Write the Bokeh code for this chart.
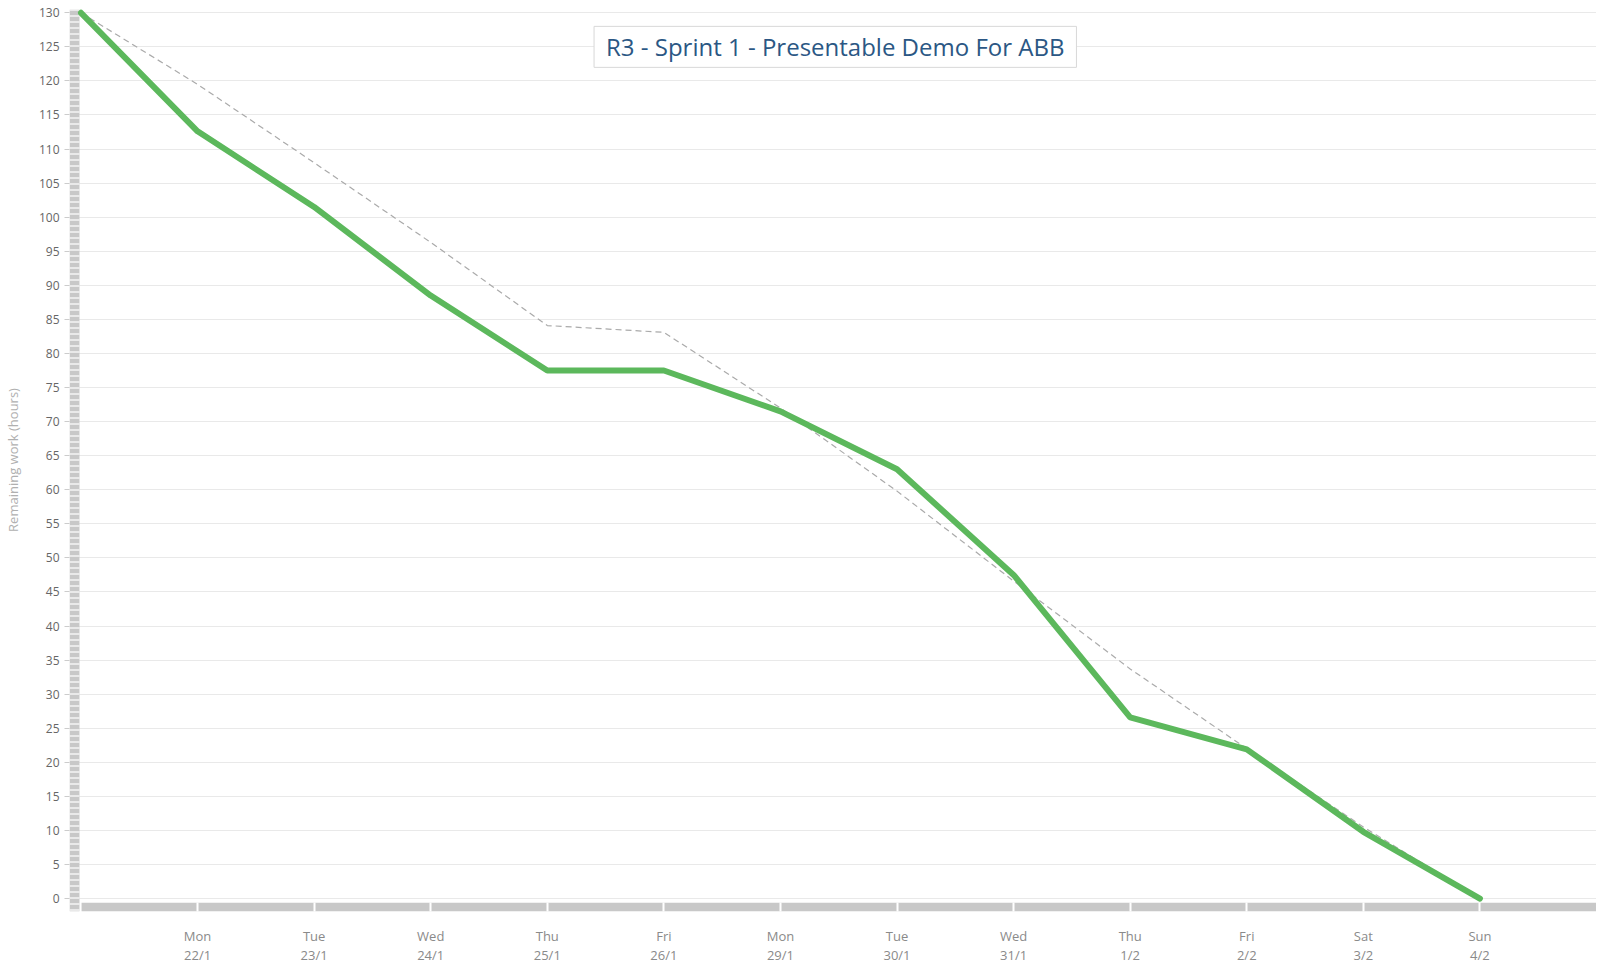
from bokeh.plotting import figure
from bokeh.models import Label, FixedTicker, Range1d, ColumnDataSource
from bokeh.embed import file_html
from bokeh.resources import INLINE

# ---- data ----
day_index = [0, 1, 2, 3, 4, 5, 6, 7, 8, 9, 10, 11, 12]
weekdays = ["Mon", "Tue", "Wed", "Thu", "Fri", "Mon", "Tue", "Wed", "Thu", "Fri", "Sat", "Sun"]
dates = ["22/1", "23/1", "24/1", "25/1", "26/1", "29/1", "30/1", "31/1", "1/2", "2/2", "3/2", "4/2"]
remaining = [130, 112.6, 101.5, 88.5, 77.5, 77.5, 71.5, 63.0, 47.5, 26.6, 21.9, 9.8, 0]
ideal = [130, 119.5, 108, 96.3, 84.1, 83.1, 72, 59.8, 46.6, 33.7, 22, 10.5, 0]
y_ticks = list(range(0, 131, 5))
title_text = "R3 - Sprint 1 - Presentable Demo For ABB"

FONT = "Open Sans"
X0, X1 = -0.0985, 13.0
Y0, Y1 = -1.9, 130.63

p = figure(width=1596, height=967, x_range=Range1d(X0, X1), y_range=Range1d(Y0, Y1),
           output_backend="svg", toolbar_location=None,
           min_border_left=68, min_border_right=0, min_border_top=8, min_border_bottom=55)
p.outline_line_color = None
p.background_fill_color = "white"
p.xgrid.visible = False
p.ygrid.grid_line_color = "#e9e9e9"
p.ygrid.grid_line_width = 1

# decorative navigator-like bands
p.quad(left=X0, right=-0.013, bottom=Y0, top=130.45, fill_color="#c8c8c8", line_color=None,
       hatch_pattern="-", hatch_color="white", hatch_scale=6, hatch_weight=1.2)
p.quad(left=0.005, right=X1, bottom=Y0, top=-0.6, fill_color="#c8c8c8", line_color=None)

src = ColumnDataSource(dict(x=day_index, remaining=remaining, ideal=ideal))
p.line("x", "ideal", source=src, line_color="#aaaaaa", line_width=1.2, line_dash="6 4")
p.line("x", "remaining", source=src, line_color="#5cb85c", line_width=6,
       line_cap="round", line_join="round")

# y axis
ya = p.yaxis[0]
ya.ticker = FixedTicker(ticks=y_ticks)
ya.axis_line_color = None
ya.major_tick_out = 5
ya.major_tick_in = 0
ya.major_tick_line_color = "#cccccc"
ya.minor_tick_line_color = None
ya.major_label_text_font = FONT
ya.major_label_text_font_size = "12px"
ya.major_label_text_color = "#666666"
ya.major_label_standoff = 5
ya.axis_label = "Remaining work (hours)"
ya.axis_label_text_font = FONT
ya.axis_label_text_font_size = "13px"
ya.axis_label_text_font_style = "normal"
ya.axis_label_text_color = "#b0b0b0"
ya.axis_label_standoff = 14

# x axis
xa = p.xaxis[0]
xa.ticker = FixedTicker(ticks=day_index[1:])
xa.major_label_overrides = {i + 1: f"{weekdays[i]}\n{dates[i]}" for i in range(len(dates))}
xa.axis_line_color = None
xa.major_tick_out = 0
xa.major_tick_in = 9
xa.major_tick_line_color = "white"
xa.major_tick_line_width = 2
xa.minor_tick_line_color = None
xa.major_label_text_font = FONT
xa.major_label_text_font_size = "13px"
xa.major_label_text_line_height = 1.1
xa.major_label_text_color = "#8a8a8a"
xa.major_label_standoff = 15

title = Label(x=6.47, y=125.0, text=title_text, text_align="center", text_baseline="middle",
              text_font=FONT, text_font_size="24px", text_color="#2b5784",
              border_line_color="#d8d8d8", background_fill_color="white", padding=(12, 4))
p.add_layout(title)

open("out.html", "w").write(file_html(p, INLINE))
